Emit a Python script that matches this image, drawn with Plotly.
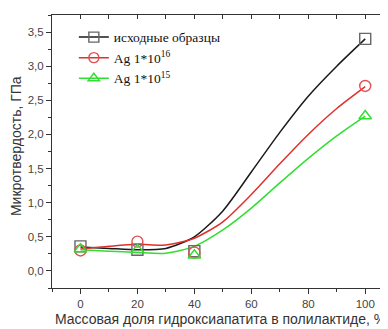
import plotly.graph_objects as go

# measured points
x_pts = [0, 20, 40, 100]
base_pts = [0.36, 0.31, 0.29, 3.40]
ag16_pts = [0.30, 0.43, 0.27, 2.71]
ag15_pts = [0.32, 0.31, 0.23, 2.27]

# smooth fitted curves
x_fit = [0, 10, 20, 30, 40, 50, 60, 70, 80, 90, 100]
base_fit = [0.35, 0.33, 0.31, 0.33, 0.50, 0.88, 1.45, 2.03, 2.56, 3.00, 3.40]
ag16_fit = [0.32, 0.36, 0.39, 0.38, 0.48, 0.72, 1.12, 1.57, 2.00, 2.38, 2.70]
ag15_fit = [0.31, 0.29, 0.27, 0.26, 0.36, 0.60, 0.92, 1.29, 1.65, 1.98, 2.27]

names = ["исходные образцы", "Ag 1*10<sup>16</sup>", "Ag 1*10<sup>15</sup>"]
x_ticks = [0, 20, 40, 60, 80, 100]
y_ticks = [0.0, 0.5, 1.0, 1.5, 2.0, 2.5, 3.0, 3.5]
y_ticktext = ["0,0", "0,5", "1,0", "1,5", "2,0", "2,5", "3,0", "3,5"]
x_title = "Массовая доля гидроксиапатита в полилактиде, %"
y_title = "Микротвердость, ГПа"

colors = ["#1a1a1a", "#e0302c", "#33dd33"]
mcolors = ["#666666", "#e05050", "#33dd33"]
symbols = ["square-open", "circle-open", "triangle-up-open"]

fig = go.Figure()
for fit, c in zip([base_fit, ag16_fit, ag15_fit], colors):
    fig.add_trace(go.Scatter(x=x_fit, y=fit, mode="lines",
                             line=dict(color=c, width=1.5, shape="spline", smoothing=0.7),
                             showlegend=False, hoverinfo="skip"))
for pts, mc, s in zip([base_pts, ag16_pts, ag15_pts], mcolors, symbols):
    fig.add_trace(go.Scatter(x=x_pts, y=pts, mode="markers",
                             marker=dict(symbol=s, size=11, color=mc, line=dict(width=1.4, color=mc)),
                             showlegend=False))
for n, c, mc, s in zip(names, colors, mcolors, symbols):
    fig.add_trace(go.Scatter(x=[None], y=[None], mode="lines+markers", name=n,
                             line=dict(color=c, width=1.5),
                             marker=dict(symbol=s, size=10, color=mc, line=dict(width=1.4, color=mc))))
# dummy trace for mirrored top/right axes
fig.add_trace(go.Scatter(x=[None], y=[None], xaxis="x2", yaxis="y2", showlegend=False))

axis_common = dict(showgrid=False, zeroline=False, showline=True, linecolor="#333333", linewidth=1,
                   tickcolor="#333333", automargin=False)
# page body has an 8px margin, so the figure is sized to fit the 388x329 window
fig.update_layout(
    width=380, height=321,
    margin=dict(l=44, r=0, t=7, b=41),
    paper_bgcolor="white", plot_bgcolor="white",
    font=dict(family="Liberation Sans, Arial, sans-serif", color="#444444", size=11.5),
    xaxis=dict(range=[-10, 108], tickvals=x_ticks, ticks="outside", ticklen=5,
               minor=dict(dtick=10, tick0=0, ticks="outside", ticklen=3, tickcolor="#333333"),
               **axis_common),
    yaxis=dict(range=[-0.25, 3.75], tickvals=y_ticks, ticktext=y_ticktext, ticks="outside", ticklen=5,
               minor=dict(dtick=0.25, tick0=0, ticks="outside", ticklen=3, tickcolor="#333333"),
               **axis_common),
    xaxis2=dict(range=[-10, 108], overlaying="x", side="top", anchor="y", tickvals=x_ticks,
                ticks="inside", ticklen=4, showticklabels=False,
                minor=dict(dtick=10, tick0=0, ticks="inside", ticklen=4, tickcolor="#333333"),
                **axis_common),
    yaxis2=dict(range=[-0.25, 3.75], overlaying="y", side="right", anchor="x", tickvals=y_ticks,
                ticks="inside", ticklen=4, showticklabels=False,
                minor=dict(dtick=0.25, tick0=0, ticks="inside", ticklen=4, tickcolor="#333333"),
                **axis_common),
    legend=dict(x=0.065, y=0.975, xanchor="left", yanchor="top", bgcolor="rgba(0,0,0,0)",
                font=dict(family="Liberation Serif, Times New Roman, serif", size=13.5, color="#111111"),
                tracegroupgap=0, itemwidth=30),
    annotations=[
        dict(text=x_title, xref="paper", yref="paper", x=0.5, y=0, yshift=-31,
             xanchor="center", yanchor="middle", showarrow=False,
             font=dict(size=14, color="#333333")),
        dict(text=y_title, xref="paper", yref="paper", x=0, xshift=-36, y=0.52, textangle=-90,
             xanchor="center", yanchor="middle", showarrow=False,
             font=dict(size=14, color="#333333")),
    ],
)

fig.write_html("out.html")
